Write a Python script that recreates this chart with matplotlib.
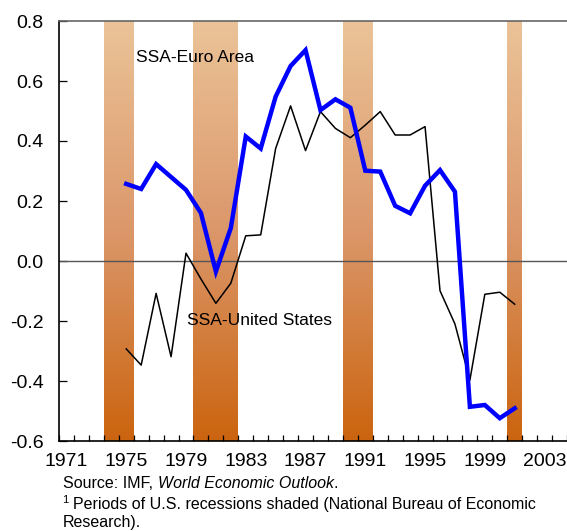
import numpy as np
import matplotlib
matplotlib.use('Agg')
import matplotlib.pyplot as plt
from matplotlib.colors import LinearSegmentedColormap
from matplotlib.ticker import MultipleLocator, FixedLocator

plt.rcParams['font.family'] = ['Liberation Sans', 'DejaVu Sans']

years = list(range(1975, 2002))
ssa_euro = [0.257, 0.24, 0.323, 0.28, 0.237, 0.16, -0.035, 0.11, 0.415, 0.375,
            0.548, 0.65, 0.703, 0.503, 0.539, 0.511, 0.301, 0.298, 0.184, 0.159,
            0.251, 0.303, 0.231, -0.486, -0.48, -0.524, -0.491]
ssa_us = [-0.293, -0.347, -0.108, -0.319, 0.026, -0.06, -0.141, -0.074, 0.084, 0.087,
          0.375, 0.517, 0.368, 0.498, 0.442, 0.411, 0.453, 0.498, 0.42, 0.42,
          0.448, -0.099, -0.21, -0.397, -0.111, -0.104, -0.144]

# US recessions (start, end) in year units
recessions = [(1973.5, 1975.5), (1979.5, 1982.5), (1989.5, 1991.5), (2000.5, 2001.5)]

year_labels = list(range(1971, 2004, 4))

fig = plt.figure(figsize=(5.67, 5.31), dpi=100)
ax = fig.add_axes([59 / 567, 90 / 531, 508 / 567, 420 / 531])

ymin, ymax = -0.6, 0.8
xmin, xmax = 1970.5, 2004.5

# shaded recession bars with vertical gradient
cmap = LinearSegmentedColormap.from_list('rec', ['#EBC398', '#DB976A', '#CB640F'])
grad = np.linspace(0, 1, 256).reshape(-1, 1)
for x0, x1 in recessions:
    ax.imshow(grad, cmap=cmap, extent=[x0, x1, ymin, ymax], aspect='auto',
              origin='upper', zorder=1, interpolation='bilinear')

ax.axhline(0, color='#555555', lw=1.0, zorder=2)

ax.plot(years, ssa_us, color='black', lw=1.1, zorder=3)
ax.plot(years, ssa_euro, color='#0000FF', lw=3.2, zorder=4, solid_joinstyle='miter')

ax.text(1975.65, 0.68, 'SSA-Euro Area', fontsize=12.5, va='center', ha='left', zorder=5)
ax.text(1979.05, -0.197, 'SSA-United States', fontsize=12.5, va='center', ha='left', zorder=5)

ax.set_xlim(xmin, xmax)
ax.set_ylim(ymin, ymax)

ax.xaxis.set_major_locator(FixedLocator(year_labels))
ax.set_xticklabels([str(y) for y in year_labels])
ax.xaxis.set_minor_locator(FixedLocator(np.arange(xmin, xmax + 0.01, 1)))
ax.tick_params(axis='x', which='major', length=0, pad=9, labelsize=14)
ax.tick_params(axis='x', which='minor', direction='in', length=4, width=0.9)

ax.yaxis.set_major_locator(MultipleLocator(0.2))
ax.set_yticklabels([f'{v:.1f}' for v in ax.get_yticks()])
ax.tick_params(axis='y', direction='in', length=6, width=0.9, pad=11, labelsize=14)

ax.spines['right'].set_visible(False)
ax.spines['top'].set_color('#666666')
ax.spines['left'].set_linewidth(1.2)
ax.spines['bottom'].set_linewidth(1.2)
ax.spines['top'].set_linewidth(1.2)

# footnotes
fig.canvas.draw()
renderer = fig.canvas.get_renderer()
W = fig.bbox.width
fs = 11.5
x0 = 63 / 567
y1 = 1 - 483 / 531
t1 = fig.text(x0, y1, 'Source: IMF, ', fontsize=fs, va='center', ha='left')
bb = t1.get_window_extent(renderer)
t2 = fig.text(bb.x1 / W, y1, 'World Economic Outlook',
              fontsize=fs, style='italic', va='center', ha='left')
bb = t2.get_window_extent(renderer)
fig.text(bb.x1 / W, y1, '.', fontsize=fs, va='center', ha='left')

fig.text(62 / 567, 1 - 500 / 531, '1', fontsize=8, va='center', ha='left')
fig.text(73 / 567, 1 - 505 / 531,
         'Periods of U.S. recessions shaded (National Bureau of Economic',
         fontsize=fs, va='center', ha='left')
fig.text(x0, 1 - 522 / 531, 'Research).', fontsize=fs, va='center', ha='left')

fig.savefig('out.png', dpi=100)
